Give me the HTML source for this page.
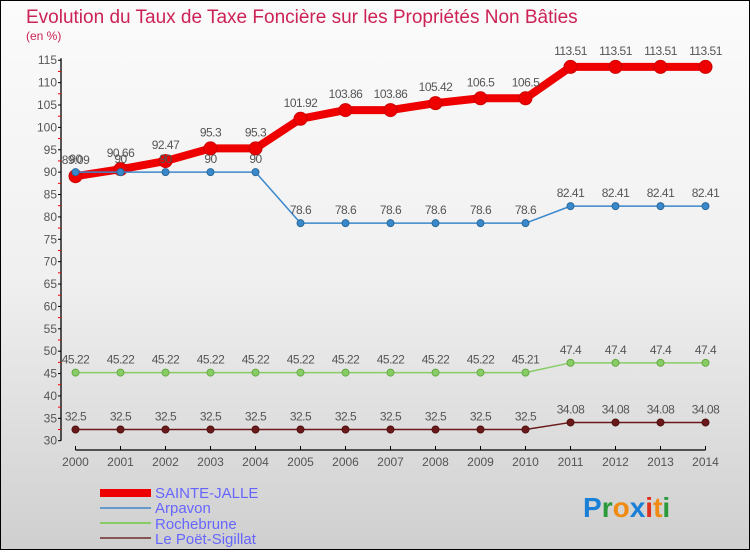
<!DOCTYPE html>
<html><head><meta charset="utf-8"><style>
html,body{margin:0;padding:0}
body{width:750px;height:550px;overflow:hidden;font-family:"Liberation Sans",sans-serif}
</style></head><body>
<svg id="chart" width="750" height="550" xmlns="http://www.w3.org/2000/svg" font-family="Liberation Sans, sans-serif">
<defs><linearGradient id="bg" x1="0" y1="0" x2="0" y2="1"><stop offset="0" stop-color="#fbfbfb"/><stop offset="0.5" stop-color="#f0f0f0"/><stop offset="1" stop-color="#cfcfcf"/></linearGradient></defs>
<rect x="0.5" y="0.5" width="749" height="549" fill="url(#bg)" stroke="#000"/>
<text x="26" y="23" font-size="19" fill="#cc2255">Evolution du Taux de Taxe Foncière sur les Propriétés Non Bâties</text>
<text x="26" y="40" font-size="12" fill="#cc2255">(en %)</text>
<g id="axes"></g>
<g id="series"></g>
<g font-size="15" fill="#6666ff">
<rect x="100" y="489" width="51" height="8" fill="#ee0000"/>
<text x="155" y="498">SAINTE-JALLE</text>
<rect x="100" y="507" width="51" height="2" fill="#6699cc"/>
<text x="155" y="513">Arpavon</text>
<rect x="100" y="522" width="51" height="2" fill="#88cc66"/>
<text x="155" y="529">Rochebrune</text>
<rect x="100" y="537" width="51" height="2" fill="#885555"/>
<text x="155" y="544">Le Poët-Sigillat</text>
</g>
<text x="583" y="517" font-size="28" font-weight="bold"><tspan fill="#1a7fd6">P</tspan><tspan fill="#2a9a3a">r</tspan><tspan fill="#f08a10">o</tspan><tspan fill="#1a7fd6">x</tspan><tspan fill="#e03020">i</tspan><tspan fill="#f08a10">t</tspan><tspan fill="#2a9a3a">i</tspan></text>
</svg>
<script>
const years = [2000,2001,2002,2003,2004,2005,2006,2007,2008,2009,2010,2011,2012,2013,2014];
const yTicks = [30,35,40,45,50,55,60,65,70,75,80,85,90,95,100,105,110,115];
const sainteJalle = [89.09,90.66,92.47,95.3,95.3,101.92,103.86,103.86,105.42,106.5,106.5,113.51,113.51,113.51,113.51];
const arpavon = [90,90,90,90,90,78.6,78.6,78.6,78.6,78.6,78.6,82.41,82.41,82.41,82.41];
const rochebrune = [45.22,45.22,45.22,45.22,45.22,45.22,45.22,45.22,45.22,45.22,45.21,47.4,47.4,47.4,47.4];
const poetSigillat = [32.5,32.5,32.5,32.5,32.5,32.5,32.5,32.5,32.5,32.5,32.5,34.08,34.08,34.08,34.08];

const NS="http://www.w3.org/2000/svg";
const xS = i => 75.5 + i*45;
const yS = v => 440.7 - (v-30)*4.476;
function mk(tag, attrs, parent){const e=document.createElementNS(NS,tag);for(const k in attrs)e.setAttribute(k,attrs[k]);parent.appendChild(e);return e;}
const axes=document.getElementById('axes'), ser=document.getElementById('series');

let yl=mk('line',{x1:61,y1:yS(115)-2,x2:61,y2:yS(30),stroke:'#000','stroke-width':1.3},axes);


yTicks.forEach(v=>{
  const y=yS(v);
  let t=mk('line',{x1:58,y1:y,x2:61,y2:y,stroke:'#000'},axes);
  
  
  if(v<115){let m=mk('line',{x1:58,y1:y-11.2,x2:61,y2:y-11.2,stroke:'#e00'},axes);
  
  }
  let l=mk('text',{x:57,y:y+4,'text-anchor':'end','font-size':12,fill:'#555'},axes);
  l.textContent=v;
  
  
});
let xl=mk('line',{x1:xS(0),y1:450,x2:xS(years.length-1),y2:450,stroke:'#000','stroke-width':1.3},axes);


years.forEach((yr,i)=>{
  let t=mk('line',{x1:xS(i),y1:446,x2:xS(i),y2:450,stroke:'#000'},axes);
  
  
  let l=mk('text',{x:xS(i),y:466,'text-anchor':'middle','font-size':12,fill:'#555'},axes);
  l.textContent=yr;
  
  
});

function draw(vals,name,color,w,r,stroke){
  const g=mk('g',{},ser);
  
  
  const p=mk('polyline',{points:vals.map((v,i)=>xS(i)+','+yS(v)).join(' '),fill:'none',stroke:color,'stroke-width':w,'stroke-linejoin':'round'},g);
  
  
  vals.forEach((v,i)=>{
    const c=mk('circle',{cx:xS(i),cy:yS(v),r:r,fill:color,stroke:stroke,'stroke-width':1},g);
    
    
    const t=mk('text',{x:xS(i),y:yS(v)-(r>5?12:9),'text-anchor':'middle','font-size':12,fill:'#555','letter-spacing':'-0.5'},g);
    t.textContent=String(v);
    
    
  });
}
draw(poetSigillat,'le-poet-sigillat','#6a1a1a',1.5,3.5,'#501010');
draw(rochebrune,'rochebrune','#88cc66',1.5,3.5,'#66aa44');
draw(sainteJalle,'sainte-jalle','#ee0000',8,6.5,'#cc0000');
draw(arpavon,'arpavon','#3a88cc',1.5,3.5,'#2a6a9a');
</script>
</body></html>
